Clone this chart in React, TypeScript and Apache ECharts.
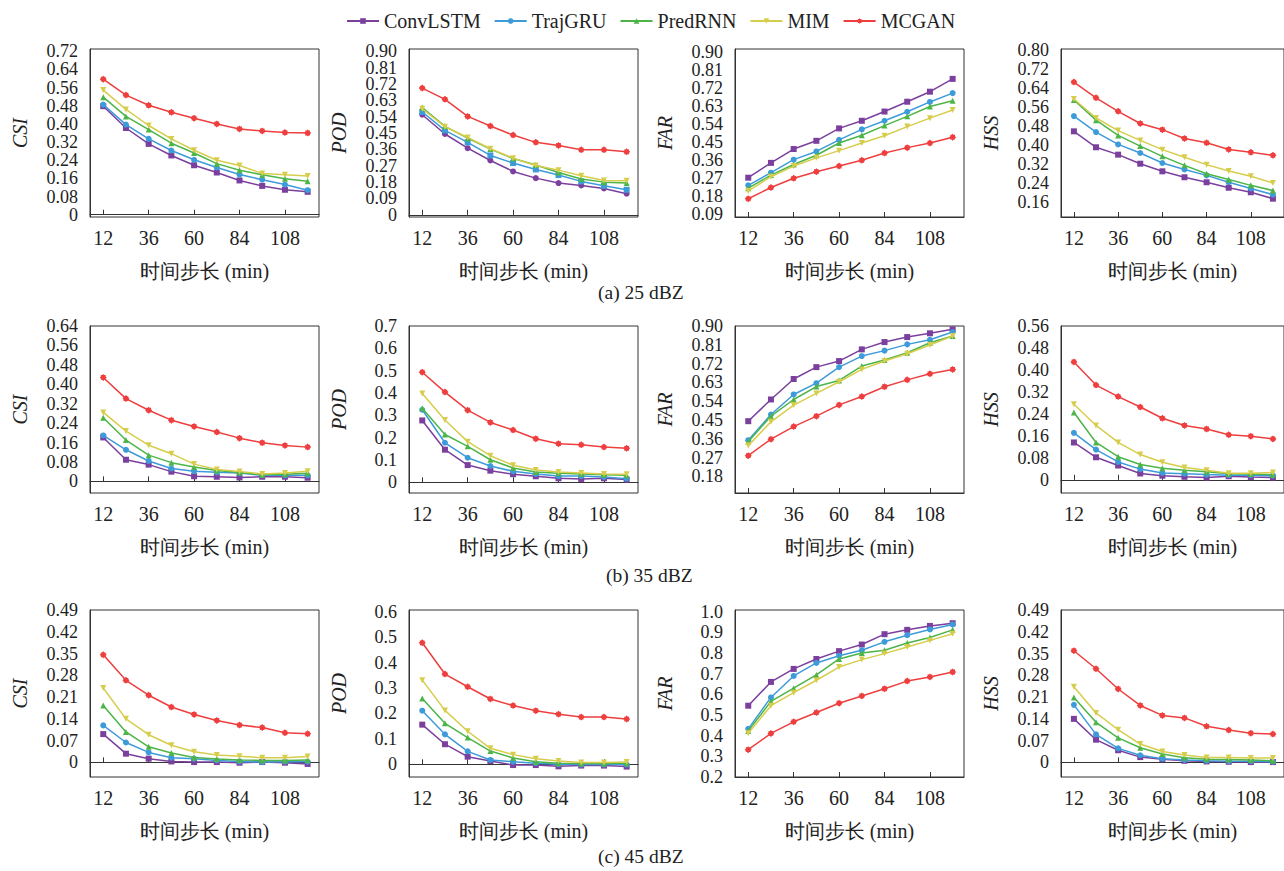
import React, { useEffect, useRef } from "react";
import * as echarts from "echarts";

const steps = [12, 24, 36, 48, 60, 72, 84, 96, 108, 120];
const xTicks = [12, 36, 60, 84, 108];
const models = ["ConvLSTM", "TrajGRU", "PredRNN", "MIM", "MCGAN"];
const colors = ["#7B3F9E", "#3D9BDA", "#4DB548", "#D7CD4C", "#EE3E3E"];
const captions = ["(a) 25 dBZ", "(b) 35 dBZ", "(c) 45 dBZ"];
const xTitle = "时间步长 (min)";

// rows: ConvLSTM, TrajGRU, PredRNN, MIM, MCGAN
const csi25 = [
  [0.478, 0.382, 0.312, 0.261, 0.218, 0.186, 0.151, 0.127, 0.110, 0.101],
  [0.485, 0.397, 0.334, 0.283, 0.242, 0.208, 0.177, 0.154, 0.133, 0.108],
  [0.518, 0.433, 0.375, 0.315, 0.272, 0.225, 0.196, 0.176, 0.158, 0.148],
  [0.549, 0.464, 0.393, 0.334, 0.284, 0.240, 0.217, 0.182, 0.176, 0.171],
  [0.597, 0.527, 0.482, 0.451, 0.425, 0.400, 0.378, 0.369, 0.362, 0.360],
];
const pod25 = [
  [0.551, 0.445, 0.367, 0.299, 0.239, 0.202, 0.175, 0.162, 0.145, 0.116],
  [0.566, 0.465, 0.399, 0.327, 0.285, 0.250, 0.219, 0.184, 0.160, 0.138],
  [0.591, 0.487, 0.422, 0.362, 0.310, 0.274, 0.233, 0.197, 0.180, 0.175],
  [0.584, 0.485, 0.426, 0.364, 0.312, 0.272, 0.246, 0.215, 0.189, 0.187],
  [0.698, 0.636, 0.542, 0.489, 0.439, 0.399, 0.382, 0.358, 0.358, 0.347],
];
const far25 = [
  [0.271, 0.345, 0.414, 0.455, 0.517, 0.555, 0.601, 0.650, 0.700, 0.764],
  [0.233, 0.296, 0.361, 0.402, 0.460, 0.512, 0.555, 0.600, 0.649, 0.693],
  [0.219, 0.284, 0.337, 0.383, 0.444, 0.483, 0.531, 0.577, 0.626, 0.655],
  [0.205, 0.276, 0.329, 0.370, 0.406, 0.444, 0.480, 0.526, 0.568, 0.609],
  [0.166, 0.222, 0.268, 0.301, 0.329, 0.358, 0.394, 0.421, 0.444, 0.473],
];
const hss25 = [
  [0.457, 0.390, 0.359, 0.321, 0.289, 0.264, 0.243, 0.220, 0.201, 0.174],
  [0.521, 0.454, 0.402, 0.366, 0.324, 0.297, 0.272, 0.243, 0.217, 0.191],
  [0.589, 0.504, 0.440, 0.395, 0.352, 0.314, 0.279, 0.255, 0.230, 0.208],
  [0.593, 0.513, 0.460, 0.419, 0.380, 0.348, 0.317, 0.290, 0.268, 0.240],
  [0.664, 0.598, 0.541, 0.490, 0.464, 0.427, 0.409, 0.381, 0.369, 0.356],
];
const csi35 = [
  [0.181, 0.089, 0.069, 0.040, 0.021, 0.019, 0.016, 0.019, 0.019, 0.015],
  [0.189, 0.130, 0.084, 0.053, 0.042, 0.037, 0.034, 0.025, 0.025, 0.025],
  [0.262, 0.170, 0.108, 0.077, 0.059, 0.045, 0.036, 0.027, 0.029, 0.033],
  [0.284, 0.207, 0.149, 0.114, 0.071, 0.049, 0.041, 0.030, 0.034, 0.042],
  [0.428, 0.341, 0.293, 0.252, 0.226, 0.203, 0.178, 0.159, 0.148, 0.141],
];
const pod35 = [
  [0.277, 0.146, 0.077, 0.052, 0.036, 0.027, 0.018, 0.015, 0.018, 0.012],
  [0.325, 0.177, 0.110, 0.073, 0.049, 0.037, 0.028, 0.028, 0.024, 0.016],
  [0.332, 0.214, 0.161, 0.101, 0.064, 0.046, 0.040, 0.037, 0.034, 0.031],
  [0.398, 0.279, 0.182, 0.119, 0.076, 0.055, 0.046, 0.042, 0.037, 0.036],
  [0.493, 0.404, 0.323, 0.268, 0.234, 0.195, 0.173, 0.168, 0.158, 0.152],
];
const far35 = [
  [0.444, 0.548, 0.646, 0.703, 0.732, 0.788, 0.823, 0.847, 0.865, 0.884],
  [0.353, 0.476, 0.572, 0.626, 0.703, 0.756, 0.782, 0.812, 0.834, 0.871],
  [0.346, 0.468, 0.548, 0.610, 0.639, 0.708, 0.737, 0.772, 0.820, 0.852],
  [0.327, 0.441, 0.521, 0.577, 0.633, 0.692, 0.732, 0.767, 0.809, 0.852],
  [0.279, 0.358, 0.418, 0.468, 0.522, 0.562, 0.609, 0.642, 0.671, 0.692],
];
const hss35 = [
  [0.136, 0.082, 0.052, 0.023, 0.015, 0.011, 0.008, 0.013, 0.010, 0.008],
  [0.171, 0.110, 0.065, 0.039, 0.025, 0.022, 0.019, 0.017, 0.017, 0.015],
  [0.245, 0.136, 0.084, 0.056, 0.042, 0.035, 0.029, 0.022, 0.021, 0.018],
  [0.275, 0.198, 0.136, 0.092, 0.064, 0.045, 0.035, 0.024, 0.024, 0.027],
  [0.429, 0.345, 0.303, 0.265, 0.224, 0.198, 0.185, 0.164, 0.159, 0.149],
];
const csi45 = [
  [0.091, 0.028, 0.012, 0.003, 0.001, 0.001, -0.001, 0.001, -0.001, -0.005],
  [0.119, 0.064, 0.032, 0.015, 0.012, 0.006, 0.003, 0.001, 0.002, 0.002],
  [0.183, 0.098, 0.050, 0.030, 0.016, 0.011, 0.008, 0.006, 0.006, 0.008],
  [0.239, 0.140, 0.089, 0.055, 0.034, 0.024, 0.020, 0.015, 0.015, 0.019],
  [0.346, 0.264, 0.216, 0.178, 0.154, 0.135, 0.120, 0.112, 0.095, 0.092],
];
const pod45 = [
  [0.156, 0.079, 0.030, 0.013, -0.003, -0.003, -0.008, -0.005, -0.005, -0.009],
  [0.211, 0.118, 0.051, 0.017, 0.010, 0.004, 0.000, -0.001, -0.001, -0.001],
  [0.259, 0.161, 0.105, 0.052, 0.025, 0.010, 0.004, 0.003, 0.003, 0.004],
  [0.331, 0.212, 0.130, 0.063, 0.038, 0.022, 0.013, 0.007, 0.007, 0.009],
  [0.478, 0.355, 0.305, 0.257, 0.231, 0.211, 0.197, 0.186, 0.186, 0.178],
];
const far45 = [
  [0.545, 0.660, 0.723, 0.771, 0.809, 0.841, 0.891, 0.912, 0.931, 0.944],
  [0.433, 0.585, 0.689, 0.752, 0.787, 0.813, 0.854, 0.886, 0.914, 0.938],
  [0.423, 0.566, 0.630, 0.694, 0.771, 0.800, 0.813, 0.848, 0.875, 0.912],
  [0.412, 0.545, 0.608, 0.668, 0.732, 0.768, 0.797, 0.829, 0.861, 0.893],
  [0.332, 0.411, 0.467, 0.512, 0.557, 0.592, 0.627, 0.664, 0.684, 0.708],
];
const hss45 = [
  [0.140, 0.073, 0.039, 0.017, 0.010, 0.005, 0.003, 0.002, 0.001, 0.001],
  [0.185, 0.090, 0.045, 0.023, 0.012, 0.008, 0.005, 0.004, 0.004, 0.002],
  [0.209, 0.129, 0.079, 0.047, 0.027, 0.015, 0.010, 0.009, 0.008, 0.005],
  [0.243, 0.159, 0.105, 0.059, 0.035, 0.024, 0.016, 0.016, 0.014, 0.014],
  [0.359, 0.301, 0.236, 0.183, 0.151, 0.143, 0.116, 0.104, 0.094, 0.091],
];

const ticksCsi25 = [0, 0.08, 0.16, 0.24, 0.32, 0.4, 0.48, 0.56, 0.64, 0.72];
const ticksPod25 = [0, 0.09, 0.18, 0.27, 0.36, 0.45, 0.54, 0.63, 0.72, 0.81, 0.9];
const ticksFar25 = [0.09, 0.18, 0.27, 0.36, 0.45, 0.54, 0.63, 0.72, 0.81, 0.9];
const ticksHss25 = [0.16, 0.24, 0.32, 0.4, 0.48, 0.56, 0.64, 0.72, 0.8];
const ticksCsi35 = [0, 0.08, 0.16, 0.24, 0.32, 0.4, 0.48, 0.56, 0.64];
const ticksPod35 = [0, 0.1, 0.2, 0.3, 0.4, 0.5, 0.6, 0.7];
const ticksFar35 = [0.18, 0.27, 0.36, 0.45, 0.54, 0.63, 0.72, 0.81, 0.9];
const ticksHss35 = [0, 0.08, 0.16, 0.24, 0.32, 0.4, 0.48, 0.56];
const ticksCsi45 = [0, 0.07, 0.14, 0.21, 0.28, 0.35, 0.42, 0.49];
const ticksPod45 = [0, 0.1, 0.2, 0.3, 0.4, 0.5, 0.6];
const ticksFar45 = [0.2, 0.3, 0.4, 0.5, 0.6, 0.7, 0.8, 0.9, 1.0];
const ticksHss45 = [0, 0.07, 0.14, 0.21, 0.28, 0.35, 0.42, 0.49];

const SERIF = "Liberation Serif";
const FS = 20;
const YFS = 18;
const downTri = "path://M0,0 L10,0 L5,9 Z";
const starSym = "path://M1.6,1.6 L8.4,1.6 L8.4,8.4 L1.6,8.4 Z M5,0 L10,5 L5,10 L0,5 Z";
const baseSymbols = ["rect", "circle", "triangle", downTri, starSym];

export default function App() {
  const ref = useRef<HTMLDivElement>(null);
  useEffect(() => {
    if (!ref.current) return;
    const chart = echarts.init(ref.current, null, { renderer: "svg" });

    const panels = [
      { name: "CSI", data: csi25, ticks: ticksCsi25, min: -0.01, max: 0.73, dec: 2 },
      { name: "POD", data: pod25, ticks: ticksPod25, min: -0.012, max: 0.913, dec: 2, swap: true },
      { name: "FAR", data: far25, ticks: ticksFar25, min: 0.075, max: 0.913, dec: 2 },
      { name: "HSS", data: hss25, ticks: ticksHss25, min: 0.097, max: 0.803, dec: 2 },
      { name: "CSI", data: csi35, ticks: ticksCsi35, min: -0.048, max: 0.64, dec: 2 },
      { name: "POD", data: pod35, ticks: ticksPod35, min: -0.048, max: 0.7, dec: 1 },
      { name: "FAR", data: far35, ticks: ticksFar35, min: 0.1, max: 0.9, dec: 2 },
      { name: "HSS", data: hss35, ticks: ticksHss35, min: -0.048, max: 0.56, dec: 2 },
      { name: "CSI", data: csi45, ticks: ticksCsi45, min: -0.047, max: 0.49, dec: 2 },
      { name: "POD", data: pod45, ticks: ticksPod45, min: -0.05, max: 0.607, dec: 1 },
      { name: "FAR", data: far45, ticks: ticksFar45, min: 0.2, max: 1.008, dec: 1 },
      { name: "HSS", data: hss45, ticks: ticksHss45, min: -0.047, max: 0.49, dec: 2 },
    ];

    const colLeft = [90, 409, 735, 1061];
    const rowTop = [49, 326, 610];
    const rowH = [168, 167, 167];
    const W = 229;

    const grids: any[] = [];
    const xAxes: any[] = [];
    const yAxes: any[] = [];
    const series: any[] = [];

    panels.forEach((p, i) => {
      const r = Math.floor(i / 4);
      const c = i % 4;
      grids.push({
        left: colLeft[c],
        top: rowTop[r],
        width: W,
        height: rowH[r],
        show: true,
        borderColor: "#333",
        borderWidth: 1,
      });
      xAxes.push({
        gridIndex: i,
        type: "value",
        min: 5,
        max: 126,
        name: xTitle,
        nameLocation: "middle",
        nameGap: 44,
        nameTextStyle: { fontFamily: SERIF, fontSize: FS, color: "#222" },
        axisLine: { show: true, lineStyle: { color: "#333", width: 1 } },
        axisTick: { show: true, inside: true, length: 5, customValues: xTicks, lineStyle: { color: "#333" } },
        axisLabel: { customValues: xTicks, fontFamily: SERIF, fontSize: FS, color: "#222", margin: 11 },
        splitLine: { show: false },
      });
      // two stacked y axes per panel (even / odd ticks) so no label is dropped for crowding
      const even = p.ticks.filter((_, k) => k % 2 === 0);
      const odd = p.ticks.filter((_, k) => k % 2 === 1);
      [even, odd].forEach((tk, h) => {
        yAxes.push({
          gridIndex: i,
          type: "value",
          position: "left",
          min: p.min,
          max: p.max,
          name: h === 0 ? p.name : "",
          nameLocation: "middle",
          nameGap: 60,
          nameTextStyle: { fontFamily: SERIF, fontSize: FS, fontStyle: "italic", color: "#222" },
          axisLine: { show: h === 0, lineStyle: { color: "#333", width: 1 } },
          axisTick: { show: false },
          axisLabel: {
            customValues: tk,
            fontFamily: SERIF,
            fontSize: YFS,
            lineHeight: 15,
            color: "#222",
            margin: 12,
            formatter: (v: number) => (Math.abs(v) < 1e-9 ? "0" : v.toFixed(p.dec)),
          },
          splitLine: { show: false },
        });
      });
      p.data.forEach((vals, k) => {
        let sym = baseSymbols[k];
        if ((p as any).swap && k === 0) sym = "circle";
        if ((p as any).swap && k === 1) sym = "rect";
        series.push({
          type: "line",
          name: models[k],
          xAxisIndex: i,
          yAxisIndex: i * 2,
          data: steps.map((s, j) => [s, vals[j]]),
          symbol: sym,
          symbolSize: k === 4 ? 7 : 6,
          lineStyle: { color: colors[k], width: 1.5 },
          itemStyle: { color: colors[k] },
          z: 2 + k,
        });
      });
    });

    const graphics: any[] = captions.map((t, i) => ({
      type: "text",
      left: [598, 606, 598][i],
      top: [282, 565, 846][i],
      style: { text: t, fontFamily: SERIF, fontSize: 19.5, fill: "#222" },
    }));

    chart.setOption({
      animation: false,
      backgroundColor: "#fff",
      textStyle: { fontFamily: SERIF },
      legend: {
        data: models,
        left: 341,
        top: 6,
        itemWidth: 32,
        itemHeight: 7,
        itemGap: 13,
        textStyle: { fontFamily: SERIF, fontSize: FS, color: "#222" },
      },
      grid: grids,
      xAxis: xAxes,
      yAxis: yAxes,
      series,
      graphic: graphics,
    });
    return () => chart.dispose();
  }, []);
  return (
    <div
      ref={ref}
      style={{ position: "absolute", left: 0, top: 0, width: 1284, height: 871, background: "#fff" }}
    />
  );
}
